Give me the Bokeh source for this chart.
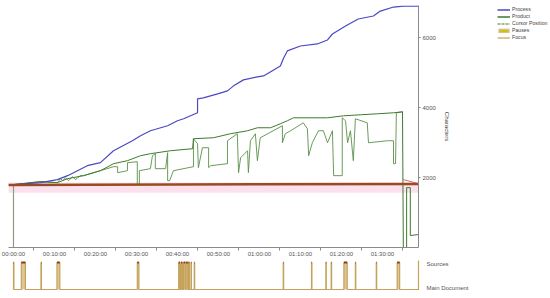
from bokeh.plotting import figure
from bokeh.layouts import column, row
from bokeh.models import Range1d, FixedTicker, Legend, LegendItem
from bokeh.embed import file_html
from bokeh.resources import INLINE

# ---- data (time in minutes, values in characters) ----
tick_minutes = [0, 10, 20, 30, 40, 50, 60, 70, 80, 90]
tick_labels = ["00:00:00", "00:10:00", "00:20:00", "00:30:00", "00:40:00",
               "00:50:00", "01:00:00", "01:10:00", "01:20:00", "01:30:00"]
minor_minutes = [5, 15, 25, 35, 45, 55, 65, 75, 85, 95]
char_ticks = [2000, 4000, 6000]

process_t = [0, 6.6, 10.7, 13.2, 15.6, 18.0, 21.2, 24.4, 29.0, 31.0, 33.4, 37.6, 40.0,
             41.5, 44.9, 44.9, 46.3, 49.8, 52.2, 53.7, 56.1, 59.5, 61.0, 65.1, 65.9,
             66.8, 70.0, 74.1, 76.6, 77.8, 81.0, 84.1, 87.8, 89.5, 92.7, 95.1, 98.8]
process_v = [1800, 1857, 1943, 2057, 2200, 2343, 2429, 2771, 3057, 3200, 3343, 3486, 3629,
             3686, 3857, 4257, 4286, 4400, 4486, 4629, 4800, 4886, 4914, 5200, 5429,
             5629, 5771, 5829, 5943, 6114, 6343, 6543, 6629, 6771, 6886, 6914, 6914]

product_t = [0, 6.6, 10.7, 13.2, 17.1, 21.2, 24.4, 27.8, 31.0, 33.4, 38.3, 43.7, 43.9,
             48.8, 52.9, 57.1, 59.5, 62.7, 65.1, 66.8, 68.3, 76.6, 80.5, 84.6, 88.8,
             92.7, 94.9, 95.1, 95.9, 95.9, 96.8, 96.8, 98.8]
product_v = [1800, 1886, 1857, 1971, 2057, 2200, 2400, 2486, 2629, 2686, 2771, 2829, 3114,
             3143, 3257, 3343, 3429, 3429, 3543, 3629, 3714, 3714, 3771, 3800, 3829,
             3857, 3886, 0, 0, 1714, 1714, 343, 371]
initial_t = [0, 0]
initial_v = [0, 1800]

cursor_t = [0, 6.6, 10.7, 11.5, 12.0, 12.7, 13.4, 14.4, 15.1, 16.3, 17.1, 21.2, 24.4,
            25.4, 25.4, 27.8, 27.8, 30.2, 30.2, 30.7, 30.7, 33.4, 33.9, 34.6, 34.6,
            37.1, 37.6, 37.6, 38.1, 39.0, 43.9, 43.9, 44.9, 45.1, 46.1, 47.6, 47.6,
            48.1, 52.2, 52.2, 54.6, 54.9, 55.4, 57.1, 57.3, 57.8, 59.0, 59.5, 60.2,
            65.6, 65.6, 66.3, 67.6, 70.7, 71.7, 72.0, 72.9, 74.4, 75.6, 76.6, 77.8,
            78.1, 80.2, 80.2, 81.0, 81.5, 82.2, 82.9, 83.4, 86.3, 86.6, 91.2, 92.7,
            92.7, 93.2, 93.4, 94.9]
cursor_v = [1800, 1886, 1857, 1971, 1914, 2000, 1914, 2029, 1943, 2057, 2057, 2200, 2314,
            2314, 2143, 2200, 2429, 2457, 1800, 1800, 2200, 2257, 2629, 2686, 2257,
            2257, 2714, 1914, 1914, 2200, 2314, 3114, 2971, 2286, 2857, 2857, 2286,
            2343, 2400, 3057, 3257, 2143, 2571, 2771, 2143, 3057, 3257, 2486, 3143,
            3486, 3000, 3257, 3343, 3571, 3400, 2629, 3000, 3343, 3343, 3000, 3343,
            2057, 2057, 3714, 3629, 3000, 3343, 2486, 3686, 3571, 3000, 3057, 3057,
            2400, 2400, 3857, 3886]

baseline_t = [-1.3, 98.8]
baseline_v = [1790, 1820]
band_low = 1570
band_high = 1860
tail_t = [95.1, 98.8]
tail_v = [1943, 1829]

focus_start = [0.0, 1.9, 6.7, 10.6, 30.2, 40.3, 40.9, 41.5, 42.1, 42.7, 43.3, 44.1,
               65.8, 72.7, 76.2, 77.5, 80.6, 83.4, 88.5, 93.6]
focus_end = [0.1, 2.9, 6.8, 11.3, 30.6, 40.6, 41.2, 41.9, 42.5, 42.9, 43.4, 44.2,
             65.9, 72.8, 76.3, 77.6, 81.4, 83.5, 88.6, 94.2]
focus_lanes = {0: "Main Document", 1: "Sources"}
legend_labels = ["Process", "Product", "Cursor Position", "Pauses", "Focus"]

FONT = "Liberation Sans"
TXT = "#555555"
AX = "#8a8a8a"
C_PROC = "#4a48c4"
C_PROD = "#3f7a2e"
C_CUR = "#5a9048"
C_FOCUS = "#c4a25a"
C_BROWN = "#9a4a22"

xr = Range1d(-1.22, 98.8)

p1 = figure(frame_width=410, frame_height=242, x_range=xr, y_range=Range1d(0, 6930),
            output_backend="svg", toolbar_location=None, y_axis_location="right",
            min_border_left=8, min_border_right=75, min_border_top=5, min_border_bottom=13)
p1.outline_line_color = None
p1.grid.visible = False
p1.background_fill_color = None
p1.border_fill_color = None

p1.varea(x=baseline_t, y1=[band_low] * 2, y2=[band_high] * 2, fill_color="#fbe1ee", fill_alpha=1)
p1.line(cursor_t, cursor_v, line_color=C_CUR, line_width=0.9)
p1.line(initial_t, initial_v, line_color="#8f9a8a", line_width=1.2)
p1.line(product_t, product_v, line_color=C_PROD, line_width=1)
p1.line(process_t, process_v, line_color=C_PROC, line_width=1.2)
p1.line(baseline_t, baseline_v, line_color=C_BROWN, line_width=2.5)
p1.line(tail_t, tail_v, line_color="#d04040", line_width=0.8)

xa = p1.xaxis[0]
xa.ticker = FixedTicker(ticks=tick_minutes, minor_ticks=minor_minutes)
xa.major_label_overrides = {t: l for t, l in zip(tick_minutes, tick_labels)}
xa.major_label_text_font = FONT
xa.major_label_text_font_size = "6px"
xa.major_label_text_color = TXT
xa.axis_line_color = AX
xa.major_tick_line_color = AX
xa.minor_tick_line_color = AX
xa.major_tick_out = 0
xa.major_tick_in = 0
xa.minor_tick_out = 3
xa.minor_tick_in = 0
xa.major_label_standoff = 0

ya = p1.yaxis[0]
ya.ticker = FixedTicker(ticks=char_ticks)
ya.major_label_text_font = FONT
ya.major_label_text_font_size = "6px"
ya.major_label_text_color = TXT
ya.axis_line_color = AX
ya.major_tick_line_color = AX
ya.major_tick_out = 2
ya.major_tick_in = 0
ya.minor_tick_line_color = None
ya.major_label_standoff = 2
ya.axis_label = "Characters"
ya.axis_label_text_font = FONT
ya.axis_label_text_font_size = "6px"
ya.axis_label_text_font_style = "normal"
ya.axis_label_text_color = "#444444"
ya.axis_label_standoff = 5

# ---- focus lane ----
p2 = figure(frame_width=410, frame_height=30, x_range=xr, y_range=Range1d(-0.037, 1.074),
            output_backend="svg", toolbar_location=None, y_axis_location="right",
            x_axis_location=None,
            min_border_left=8, min_border_right=75, min_border_top=0, min_border_bottom=0)
p2.outline_line_color = None
p2.grid.visible = False
p2.border_fill_color = None
p2.background_fill_color = None

fx, fy = [0.0], [0.0]
for s, e in zip(focus_start, focus_end):
    fx += [s, s, e, e]
    fy += [0, 1, 1, 0]
fx.append(xr.end)
fy.append(0)
p2.quad(left=focus_start, right=focus_end, bottom=[0] * len(focus_start), top=[1] * len(focus_start),
        fill_color="#dcc08a", fill_alpha=0.9, line_color=None)
p2.line(fx, fy, line_color=C_FOCUS, line_width=1.2)
p2.segment(x0=focus_start, x1=focus_end, y0=[1] * len(focus_start), y1=[1] * len(focus_start),
           line_color="#8a3a20", line_width=2)

a2 = p2.yaxis[0]
a2.ticker = FixedTicker(ticks=list(focus_lanes.keys()))
a2.major_label_overrides = dict(focus_lanes)
a2.major_label_text_font = FONT
a2.major_label_text_font_size = "6px"
a2.major_label_text_color = TXT
a2.axis_line_color = C_FOCUS
a2.major_tick_line_color = None
a2.minor_tick_line_color = None
a2.major_label_standoff = 2
a2.axis_line_width = 1.2

# ---- legend panel (dummy renderers kept outside the visible range) ----
pl = figure(width=57, height=42, x_range=Range1d(0, 1), y_range=Range1d(0, 1),
            output_backend="svg", toolbar_location=None, x_axis_location=None, y_axis_location=None,
            min_border_left=0, min_border_right=0, min_border_top=2, min_border_bottom=0)
pl.outline_line_color = None
pl.grid.visible = False
pl.border_fill_color = None
pl.background_fill_color = None
g_proc = pl.line([5, 6], [5, 6], line_color=C_PROC, line_width=1.5)
g_prod = pl.line([5, 6], [5, 6], line_color=C_PROD, line_width=1.5)
g_cur = pl.line([5, 6], [5, 6], line_color=C_PROD, line_width=1.2, line_dash="3 1")
g_pause = pl.quad(left=[5], right=[6], top=[6], bottom=[5], fill_color="#c9c21a", line_color="#ecc0d0")
g_foc = pl.line([5, 6], [5, 6], line_color=C_FOCUS, line_width=1.2)
leg = Legend(items=[LegendItem(label=l, renderers=[r]) for l, r in
                    zip(legend_labels, [g_proc, g_prod, g_cur, g_pause, g_foc])],
             location="top_left", orientation="vertical",
             label_text_font=FONT, label_text_font_size="5.2px", label_text_color="#444444",
             glyph_width=13, glyph_height=5, label_height=5, label_standoff=2,
             spacing=1, padding=0, margin=4, background_fill_alpha=0, border_line_color=None)
pl.add_layout(leg, "center")

layout = row(column(p1, p2, spacing=0), pl, spacing=0)
open("out.html", "w").write(file_html(layout, INLINE))
